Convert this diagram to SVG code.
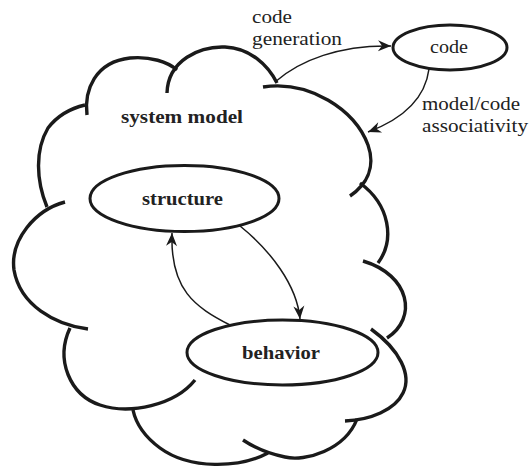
<svg xmlns="http://www.w3.org/2000/svg" width="529" height="467" viewBox="0 0 529 467">
<style>
.cloud{fill:none;stroke:#1a1a1a;stroke-width:3.4;stroke-linecap:butt}
.node{fill:#fff;stroke:#1a1a1a;stroke-width:3}
.conn{fill:none;stroke:#1a1a1a;stroke-width:1.5}
.lbl{font-size:18px;fill:#222}
.blbl{font-size:19px;font-weight:bold;fill:#222}
</style>
<defs>
<marker id="arr" markerUnits="userSpaceOnUse" markerWidth="16" markerHeight="14" viewBox="-14 -7 16 14" refX="0" refY="0" orient="auto">
<path d="M0,0 L-13,-5.5 L-9,0 L-13,5.5 Z" fill="#1a1a1a"/>
</marker>
</defs>
<g font-family="Liberation Serif, Times New Roman, serif">
<g id="system-model">
<path class="cloud" d="M87,115 C84,90 95,62 130,58 C150,56 168,62 177,70"/>
<path class="cloud" d="M167,93 C168,60 200,46 225,47 C250,48 268,65 277,83"/>
<path class="cloud" d="M263,87 C310,80 355,110 368,145 C376,168 366,185 350,196"/>
<path class="cloud" d="M360,183 C390,205 395,240 378,263"/>
<path class="cloud" d="M363,261 C410,275 418,318 387,338"/>
<path class="cloud" d="M371,329 C400,350 412,375 403,393 C395,410 370,420 345,421"/>
<path class="cloud" d="M357,419 C345,450 305,462 285,457 C270,454 255,448 243,440"/>
<path class="cloud" d="M268,453 C240,468 190,470 160,448 C145,437 136,424 133,410"/>
<path class="cloud" d="M195,380 C175,405 130,415 100,405 C70,395 55,360 70,328"/>
<path class="cloud" d="M88,329 C55,325 20,305 14,270 C10,240 35,210 65,202"/>
<path class="cloud" d="M47,207 C36,180 35,150 48,128 C58,115 72,108 85,105"/>
<text class="blbl" x="121" y="123" textLength="122" lengthAdjust="spacingAndGlyphs">system model</text>
</g>
<g id="connectors">
<path class="conn" marker-end="url(#arr)" d="M275,82 C300,60 340,45 391,46"/>
<path class="conn" marker-end="url(#arr)" d="M429,69 C425,100 400,120 368,132"/>
<path class="conn" marker-end="url(#arr)" d="M240,226 C270,250 297,285 300,319"/>
<path class="conn" marker-end="url(#arr)" d="M230,325 C195,307 170,290 172,233"/>
</g>
<g id="code">
<ellipse class="node" cx="450" cy="47.5" rx="57" ry="22.5"/>
<text class="lbl" x="430" y="53" textLength="38" lengthAdjust="spacingAndGlyphs">code</text>
</g>
<g id="structure">
<ellipse class="node" cx="184.5" cy="198.5" rx="94.5" ry="33"/>
<text class="blbl" x="142" y="205" textLength="81" lengthAdjust="spacingAndGlyphs">structure</text>
</g>
<g id="behavior">
<ellipse class="node" cx="282.5" cy="352.5" rx="95.5" ry="32.5"/>
<text class="blbl" x="242" y="359" textLength="78" lengthAdjust="spacingAndGlyphs">behavior</text>
</g>
<g id="labels">
<text class="lbl" x="252" y="23" textLength="40" lengthAdjust="spacingAndGlyphs">code</text>
<text class="lbl" x="252" y="45" textLength="90" lengthAdjust="spacingAndGlyphs">generation</text>
<text class="lbl" x="422" y="110" textLength="98" lengthAdjust="spacingAndGlyphs">model/code</text>
<text class="lbl" x="422" y="132" textLength="106" lengthAdjust="spacingAndGlyphs">associativity</text>
</g>
</g>
</svg>
